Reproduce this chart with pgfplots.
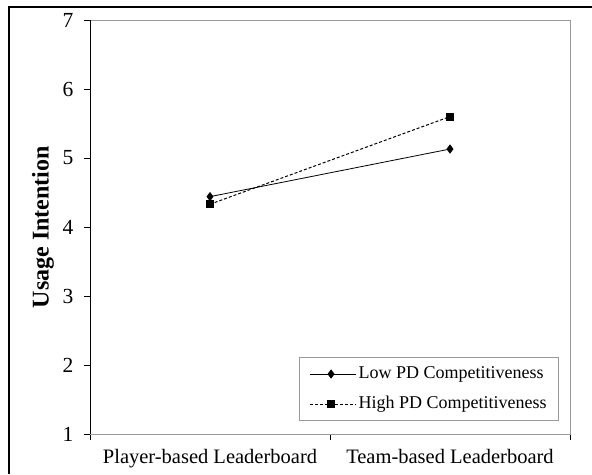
\documentclass[border=0pt]{standalone}
\usepackage{pgfplots}
\pgfplotsset{compat=1.18}
\usepackage{fontspec}
\setmainfont{Liberation Serif}
\begin{document}
\fontsize{19pt}{22pt}\selectfont
\begin{tikzpicture}
\begin{axis}[
  name=ax,
  at={(0,0)}, anchor=south west,
  scale only axis,
  width=480pt, height=414pt,
  xmin=0, xmax=2, ymin=1, ymax=7,
  xtick={0.5,1.5},
  xticklabels={Player-based Leaderboard, Team-based Leaderboard},
  minor xtick={0,1,2},
  ytick={1,2,3,4,5,6,7},
  tick align=outside,
  major tick length=6pt,
  minor tick length=6pt,
  major x tick style={draw=none},
  minor x tick style={black, line width=0.8pt},
  major y tick style={black, line width=0.8pt},
  xtick pos=bottom, ytick pos=left,
  axis line style={draw=gray!80, line width=0.8pt},
  tick label style={font=\fontsize{20.5pt}{24pt}\selectfont},
  yticklabel style={font=\fontsize{21.5pt}{24pt}\selectfont, xshift=-4pt},
  /pgf/number format/assume math mode=true,
  xticklabel style={yshift=-3pt},
  ylabel={\textbf{Usage Intention}},
  ylabel style={font=\fontsize{24pt}{28pt}\selectfont, yshift=-4pt},
  legend style={
    at={(rel axis cs:0.977,0.031)}, anchor=south east,
    draw=gray!80, line width=0.8pt,
    font=\fontsize{18pt}{22pt}\selectfont,
    row sep=11pt, inner xsep=10pt, inner ysep=7pt,
    cells={anchor=west},
  },
  legend cell align=left,
  legend image code/.code={%
    \path (0pt,0pt) -- (46pt,0pt);
    \draw[mark repeat=2,mark phase=2] plot coordinates {(0pt,0pt)(21pt,0pt)(42pt,0pt)};},
]
\addplot[black, line width=0.8pt, mark=diamond*, mark size=4pt, mark options={solid}]
  coordinates {(0.5,4.44) (1.5,5.13)};
\addlegendentry{Low PD Competitiveness}
\addplot[black, line width=1pt, dash pattern=on 3pt off 2pt, mark=square*, mark size=3.5pt, mark options={solid}]
  coordinates {(0.5,4.33) (1.5,5.60)};
\addlegendentry{High PD Competitiveness}
\draw[black, line width=0.9pt] (rel axis cs:0,1) -- (rel axis cs:0,0) -- (rel axis cs:1,0);
\end{axis}
\useasboundingbox (ax.south west) ++(-90pt,-36pt) rectangle ([shift={(502pt,434pt)}]ax.south west);
\draw[black, line width=1.6pt] ([shift={(-81pt,-40pt)}]ax.south west) -- ([shift={(-81pt,427pt)}]ax.south west) -- ([shift={(510pt,427pt)}]ax.south west);
\end{tikzpicture}
\end{document}
